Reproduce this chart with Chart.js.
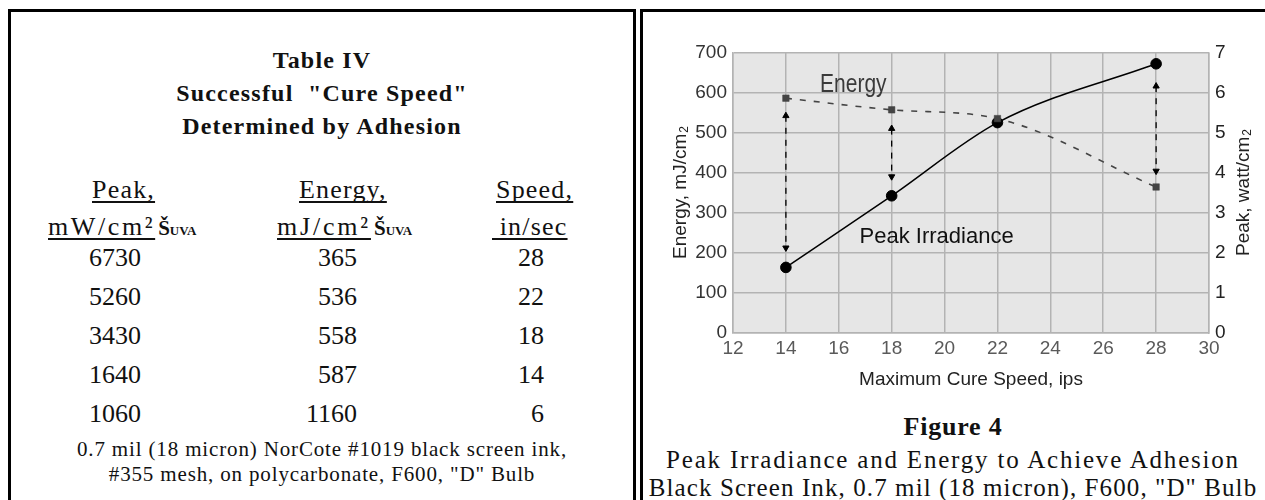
<!DOCTYPE html>
<html lang="en">
<head>
<meta charset="UTF-8">
<title>Table IV and Figure 4</title>
<script src="https://cdn.jsdelivr.net/npm/chart.js"></script>
<style>
    body {
        margin: 0;
        width: 1265px;
        height: 500px;
        overflow: hidden;
        background: #fff;
        position: relative;
        font-family: "Liberation Serif", "Times New Roman", serif;
        color: #111;
    }
    .box {
        position: absolute;
        box-sizing: border-box;
        border: 3px solid #000;
    }
    #leftBox { left: 8px; top: 9px; width: 628px; height: 560px; }
    #rightBox { left: 640px; top: 9px; width: 700px; height: 560px; }
    .t { position: absolute; white-space: nowrap; }
    .title {
        left: 8px; width: 628px; top: 44px;
        text-align: center; font-weight: bold;
        font-size: 24px; line-height: 33px; letter-spacing: 1.2px;
    }
    .hd {
        font-size: 26px; line-height: 26px; letter-spacing: 1.2px;
        text-decoration: underline; text-underline-offset: 3px;
        text-decoration-skip-ink: none; text-decoration-thickness: 1.5px;
    }
    .uva { font-size: 21px; font-weight: bold; margin-left: 3px; }
    .uva b { font-size: 13px; }
    .num { font-size: 26px; line-height: 26px; text-align: right; width: 120px; }
    .foot {
        left: 8px; width: 628px; top: 437px;
        text-align: center; font-size: 21px; line-height: 25px; letter-spacing: 0.85px;
    }
    #chartWrap { position: absolute; left: 644px; top: 12px; width: 621px; height: 388px; }
    .fig { left: 643px; width: 620px; text-align: center; }
</style>
</head>
<body>
<div class="box" id="leftBox"></div>
<div class="box" id="rightBox"></div>

<div class="t title">Table IV<br>Successful &nbsp;"Cure Speed"<br>Determined by Adhesion</div>

<div class="t hd" style="left:92px; top:177px;">Peak,</div>
<div class="t hd" style="left:299px; top:177px;">Energy,</div>
<div class="t hd" style="left:496px; top:177px;">Speed,</div>
<div class="t" style="left:48px; top:214px; line-height:26px;"><span class="hd" style="letter-spacing:2.6px;">mW/cm²</span><span class="uva">Š<b>UVA</b></span></div>
<div class="t" style="left:277px; top:214px; line-height:26px;"><span class="hd" style="letter-spacing:2.8px;">mJ/cm²</span><span class="uva">Š<b>UVA</b></span></div>
<div class="t hd" style="left:492px; top:214px; white-space:pre;"> in/sec</div>

<div id="rows"></div>

<div class="t foot">0.7 mil (18 micron) NorCote #1019 black screen ink,<br>#355 mesh, on polycarbonate, F600, "D" Bulb</div>

<div id="chartWrap"><canvas id="cureChart" width="621" height="388"></canvas></div>

<div class="t fig" style="top:413px; font-size:26px; line-height:28px; font-weight:bold; letter-spacing:0.8px;">Figure 4</div>
<div class="t fig" style="top:446px; font-size:25px; line-height:28px;"><span style="letter-spacing:1.8px;">Peak Irradiance and Energy to Achieve Adhesion</span><br><span style="letter-spacing:1.1px;">Black Screen Ink, 0.7 mil (18 micron), F600, "D" Bulb</span></div>

<script>
// table values
const tablePeak = [6730, 5260, 3430, 1640, 1060];
const tableEnergy = [365, 536, 558, 587, 1160];
const tableSpeed = [28, 22, 18, 14, 6];

// chart values
const speeds = [14, 18, 22, 28];
const energy = [587, 558, 536, 365];       // mJ/cm2, left axis
const peak = [1.64, 3.43, 5.26, 6.73];     // watt/cm2, right axis
const arrowSpeeds = [14, 18, 28];
const arrowTop = [543, 511, 617];
const arrowBottom = [213, 391, 405];

// rows of the table
const rowTop = [245, 284, 323, 362, 401];
const colRight = [141, 357, 544];
const rowsDiv = document.getElementById('rows');
tablePeak.forEach((p, i) => {
    [p, tableEnergy[i], tableSpeed[i]].forEach((v, c) => {
        const d = document.createElement('div');
        d.className = 't num';
        d.style.left = (colRight[c] - 120) + 'px';
        d.style.top = rowTop[i] + 'px';
        d.textContent = v;
        rowsDiv.appendChild(d);
    });
});

Chart.defaults.font.family = '"Liberation Sans", Arial, sans-serif';

const gridGray = '#b3b3b3';
const toPoints = (xs, ys) => xs.map((x, i) => ({ x: x, y: ys[i] }));

const plotBg = {
    id: 'plotBg',
    beforeDraw(chart) {
        const { ctx, chartArea: a } = chart;
        ctx.save();
        ctx.fillStyle = '#e6e6e6';
        ctx.fillRect(a.left, a.top, a.width, a.height);
        ctx.restore();
    }
};

function verticalTitle(ctx, text, cx, cy) {
    ctx.save();
    ctx.translate(cx, cy);
    ctx.rotate(-Math.PI / 2);
    ctx.font = '19px "Liberation Sans", Arial, sans-serif';
    const w = ctx.measureText(text).width;
    ctx.font = '12px "Liberation Sans", Arial, sans-serif';
    const w2 = ctx.measureText('2').width;
    const start = -(w + w2) / 2;
    ctx.textAlign = 'left';
    ctx.textBaseline = 'alphabetic';
    ctx.font = '19px "Liberation Sans", Arial, sans-serif';
    ctx.fillText(text, start, 7);
    ctx.font = '12px "Liberation Sans", Arial, sans-serif';
    ctx.fillText('2', start + w + 1, 9);
    ctx.restore();
}

const labels = {
    id: 'labels',
    afterDraw(chart) {
        const { ctx, chartArea: a, scales } = chart;
        const x = scales.x, y = scales.y;
        ctx.save();
        ctx.fillStyle = '#222';
        ctx.textAlign = 'center';
        ctx.textBaseline = 'middle';
        ctx.font = '19px "Liberation Sans", Arial, sans-serif';
        ctx.fillText('Maximum Cure Speed, ips', (a.left + a.right) / 2, a.bottom + 47);
        verticalTitle(ctx, 'Energy, mJ/cm', a.left - 54, (a.top + a.bottom) / 2);
        verticalTitle(ctx, 'Peak, watt/cm', a.right + 33, (a.top + a.bottom) / 2);

        // series names inside the plot
        ctx.textBaseline = 'alphabetic';
        ctx.save();
        ctx.translate(x.getPixelForValue(16.55), y.getPixelForValue(602));
        ctx.scale(0.84, 1);
        ctx.fillStyle = '#3a3a3a';
        ctx.font = '25px "Liberation Sans", Arial, sans-serif';
        ctx.fillText('Energy', 0, 0);
        ctx.restore();
        ctx.fillStyle = '#111';
        ctx.font = '22px "Liberation Sans", Arial, sans-serif';
        ctx.fillText('Peak Irradiance', x.getPixelForValue(19.7), y.getPixelForValue(225));
        ctx.restore();
    }
};

const arrowSets = arrowSpeeds.map((s, i) => ({
    data: [{ x: s, y: arrowTop[i] }, { x: s, y: arrowBottom[i] }],
    yAxisID: 'y',
    borderColor: '#000',
    backgroundColor: '#000',
    borderWidth: 1.3,
    borderDash: [6, 6],
    pointStyle: 'triangle',
    pointRadius: 3.6,
    pointBorderWidth: 1,
    pointRotation: ctx => ctx.dataIndex === 0 ? 0 : 180
}));

new Chart(document.getElementById('cureChart'), {
    type: 'line',
    data: {
        datasets: [
            {
                label: 'Energy',
                data: toPoints(speeds, energy),
                yAxisID: 'y',
                borderColor: '#444',
                backgroundColor: '#444',
                borderWidth: 1.6,
                borderDash: [6, 8],
                cubicInterpolationMode: 'monotone',
                pointStyle: 'rect',
                pointRadius: 4.6,
                pointBorderColor: '#444',
                pointBorderWidth: 0.5
            },
            {
                label: 'Peak Irradiance',
                data: toPoints(speeds, peak),
                yAxisID: 'y1',
                borderColor: '#000',
                backgroundColor: '#000',
                borderWidth: 1.5,
                cubicInterpolationMode: 'monotone',
                pointStyle: 'circle',
                pointRadius: 5.3,
                pointBorderWidth: 1
            },
            ...arrowSets
        ]
    },
    options: {
        responsive: false,
        animation: false,
        devicePixelRatio: 1,
        layout: { padding: { top: 41, left: 0, right: 0, bottom: 0 } },
        plugins: { legend: { display: false }, tooltip: { enabled: false } },
        scales: {
            x: {
                type: 'linear',
                min: 12,
                max: 30,
                ticks: { stepSize: 2, color: '#5a5a5a', font: { size: 19 }, padding: 4 },
                grid: { color: gridGray, lineWidth: 1.5, drawTicks: false },
                border: { color: gridGray, width: 1.5 },
                afterFit: s => { s.height = 67; }
            },
            y: {
                position: 'left',
                min: 0,
                max: 700,
                ticks: { stepSize: 100, color: '#333', font: { size: 19 }, padding: 6 },
                grid: { color: gridGray, lineWidth: 1.5, drawTicks: false },
                border: { color: gridGray, width: 1.5 },
                afterFit: s => { s.width = 89; }
            },
            y1: {
                position: 'right',
                min: 0,
                max: 7,
                ticks: { stepSize: 1, color: '#222', font: { size: 19 }, padding: 6 },
                grid: { drawOnChartArea: false, drawTicks: false },
                border: { color: gridGray, width: 1.5 },
                afterFit: s => { s.width = 56; }
            }
        }
    },
    plugins: [plotBg, labels]
});
</script>
</body>
</html>
